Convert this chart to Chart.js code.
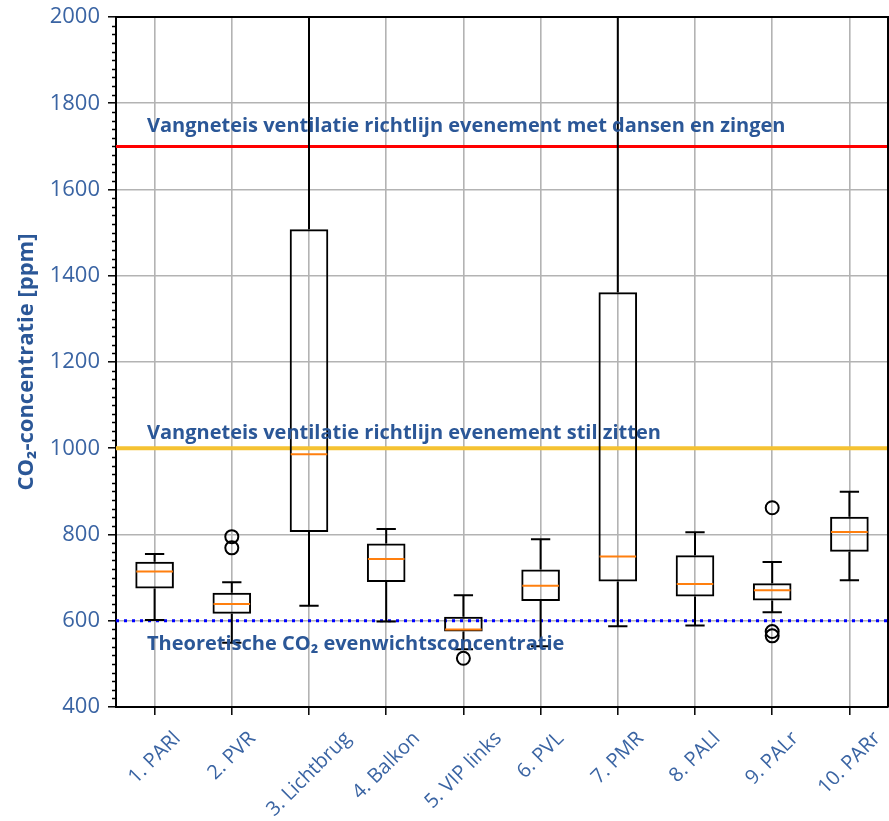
<!DOCTYPE html>
<html>
<head>
<meta charset="utf-8">
<script src="https://cdn.jsdelivr.net/npm/chart.js@4.4.0/dist/chart.umd.min.js"></script>
<style>
body { margin: 0; background: #fff; }
#wrap { width: 889px; height: 821px; }
</style>
</head>
<body>
<div id="wrap"><canvas id="myChart" width="889" height="821"></canvas></div>
<script>
// meetpunten
const categories = ['1. PARl', '2. PVR', '3. Lichtbrug', '4. Balkon', '5. VIP links', '6. PVL', '7. PMR', '8. PALl', '9. PALr', '10. PARr'];

// boxplot statistieken (ppm)
const whiskerLow  = [602, 549, 635, 598, 534, 541, 587, 589, 620, 694];
const q1          = [675, 616, 806, 690, 575, 646, 691, 656, 647, 760];
const median      = [714, 639, 986, 743, 580, 681, 749, 685, 671, 806];
const q3          = [737, 665, 1508, 779, 609, 719, 1362, 752, 687, 841];
const whiskerHigh = [755, 689, 2150, 813, 659, 789, 2150, 805, 736, 899];

// uitschieters
const outlierCats = ['2. PVR', '2. PVR', '5. VIP links', '9. PALr', '9. PALr', '9. PALr'];
const outlierVals = [795, 769, 513, 862, 575, 565];

// richtlijnen
const refValues = [1700, 1000, 600];
const refTexts = [
    'Vangneteis ventilatie richtlijn evenement met dansen en zingen',
    'Vangneteis ventilatie richtlijn evenement stil zitten',
    'Theoretische CO\u2082 evenwichtsconcentratie'
];
const refTextValues = [1747, 1034, 545];

const yTicks = [400, 600, 800, 1000, 1200, 1400, 1600, 1800, 2000];

const blue = '#2b5797';
const tickBlue = '#3a64a3';

const refLines = {
    id: 'refLines',
    beforeDatasetsDraw(chart) {
        const ctx = chart.ctx, ys = chart.scales.y, a = chart.chartArea;
        const styles = [
            {color: '#ff0000', width: 3, dash: []},
            {color: '#f5c232', width: 4, dash: []},
            {color: '#0000ff', width: 3, dash: [3, 5]}
        ];
        ctx.save();
        for (let i = 0; i < refValues.length; i++) {
            const y = ys.getPixelForValue(refValues[i]);
            ctx.strokeStyle = styles[i].color;
            ctx.lineWidth = styles[i].width;
            ctx.setLineDash(styles[i].dash);
            ctx.beginPath();
            ctx.moveTo(a.left, y);
            ctx.lineTo(a.right, y);
            ctx.stroke();
        }
        ctx.restore();
    },
    afterDatasetsDraw(chart) {
        const ctx = chart.ctx, xs = chart.scales.x, ys = chart.scales.y, a = chart.chartArea;
        const boxHalf = (a.right - a.left) / categories.length / 4;
        ctx.save();
        ctx.beginPath();
        ctx.rect(a.left, a.top, a.right - a.left, a.bottom - a.top);
        ctx.clip();
        ctx.lineWidth = 2;
        for (let i = 0; i < categories.length; i++) {
            const x = xs.getPixelForValue(i);
            ctx.strokeStyle = '#000';
            ctx.beginPath();
            ctx.moveTo(x, ys.getPixelForValue(q3[i]));
            ctx.lineTo(x, ys.getPixelForValue(whiskerHigh[i]));
            ctx.moveTo(x, ys.getPixelForValue(q1[i]));
            ctx.lineTo(x, ys.getPixelForValue(whiskerLow[i]));
            ctx.moveTo(x - boxHalf / 2, ys.getPixelForValue(whiskerHigh[i]));
            ctx.lineTo(x + boxHalf / 2, ys.getPixelForValue(whiskerHigh[i]));
            ctx.moveTo(x - boxHalf / 2, ys.getPixelForValue(whiskerLow[i]));
            ctx.lineTo(x + boxHalf / 2, ys.getPixelForValue(whiskerLow[i]));
            ctx.stroke();
            ctx.strokeStyle = '#ff7f0e';
            ctx.beginPath();
            ctx.moveTo(x - boxHalf + 1, ys.getPixelForValue(median[i]));
            ctx.lineTo(x + boxHalf - 1, ys.getPixelForValue(median[i]));
            ctx.stroke();
        }
        ctx.restore();

        // kader boven en rechts
        ctx.save();
        ctx.strokeStyle = '#000';
        ctx.lineWidth = 2;
        ctx.beginPath();
        ctx.moveTo(a.left, a.top);
        ctx.lineTo(a.right, a.top);
        ctx.lineTo(a.right, a.bottom);
        ctx.stroke();

        // kleine streepjes op de y-as
        ctx.lineWidth = 1.5;
        ctx.beginPath();
        for (let v = 400; v <= 2000; v += 20) {
            if (v % 200 === 0) continue;
            const y = Math.round(ys.getPixelForValue(v)) + 0.5;
            ctx.moveTo(a.left - 4, y);
            ctx.lineTo(a.left, y);
        }
        ctx.stroke();

        ctx.fillStyle = blue;
        ctx.font = 'bold 20px "Open Sans"';
        ctx.textBaseline = 'middle';
        for (let i = 0; i < refTexts.length; i++) {
            ctx.fillText(refTexts[i], a.left + 31, ys.getPixelForValue(refTextValues[i]));
        }

        // x-labels, 45 graden, gecentreerd onder het streepje
        ctx.fillStyle = tickBlue;
        ctx.font = '20px "Open Sans"';
        ctx.textAlign = 'center';
        ctx.textBaseline = 'middle';
        for (let i = 0; i < categories.length; i++) {
            const x = xs.getPixelForValue(i);
            const w = ctx.measureText(categories[i]).width;
            const half = (w + 15) * Math.SQRT1_2 / 2;
            ctx.save();
            ctx.translate(x, a.bottom + 23 + half);
            ctx.rotate(-Math.PI / 4);
            ctx.fillText(categories[i], 0, 0);
            ctx.restore();
        }
        ctx.restore();
    }
};

const data = {
    labels: categories,
    datasets: [{
        type: 'bar',
        data: categories.map((c, i) => [q1[i], q3[i]]),
        backgroundColor: 'rgba(0,0,0,0)',
        borderColor: '#000',
        borderWidth: 2,
        borderSkipped: false,
        categoryPercentage: 1,
        barPercentage: 0.5
    }, {
        type: 'line',
        data: outlierCats.map((c, i) => ({x: c, y: outlierVals[i]})),
        showLine: false,
        pointRadius: 6.5,
        pointBorderWidth: 2,
        pointBackgroundColor: 'rgba(0,0,0,0)',
        pointBorderColor: '#000'
    }]
};

const config = {
    data: data,
    plugins: [refLines],
    options: {
        responsive: false,
        animation: false,
        layout: {autoPadding: false, padding: {top: 17, right: 1, left: 0, bottom: 0}},
        plugins: {legend: {display: false}, tooltip: {enabled: false}},
        scales: {
            x: {
                type: 'category',
                offset: true,
                grid: {offset: false, color: '#b3b3b3', lineWidth: 1.6, tickColor: '#000', tickLength: 8, tickWidth: 1.5},
                border: {color: '#000', width: 2},
                ticks: {display: false},
                afterFit: (s) => { s.height = 114; s.paddingLeft = 0; s.paddingRight = 0; }
            },
            y: {
                min: 400,
                max: 2000,
                afterBuildTicks: (s) => { s.ticks = yTicks.map(v => ({value: v})); },
                grid: {color: '#b3b3b3', lineWidth: 1.6, tickColor: '#000', tickLength: 8, tickWidth: 1.5},
                border: {color: '#000', width: 2},
                ticks: {color: tickBlue, font: {family: 'Open Sans', size: 22}, padding: 8, callback: (v) => String(v)},
                title: {display: true, text: 'CO\u2082-concentratie [ppm]', color: blue, font: {family: 'Open Sans', size: 22, weight: 'bold'}, padding: {top: 14, bottom: 4}},
                afterFit: (s) => { s.width = 116; s.paddingTop = 0; s.paddingBottom = 0; }
            }
        }
    }
};

const myChart = new Chart(document.getElementById('myChart'), config);
</script>
</body>
</html>
